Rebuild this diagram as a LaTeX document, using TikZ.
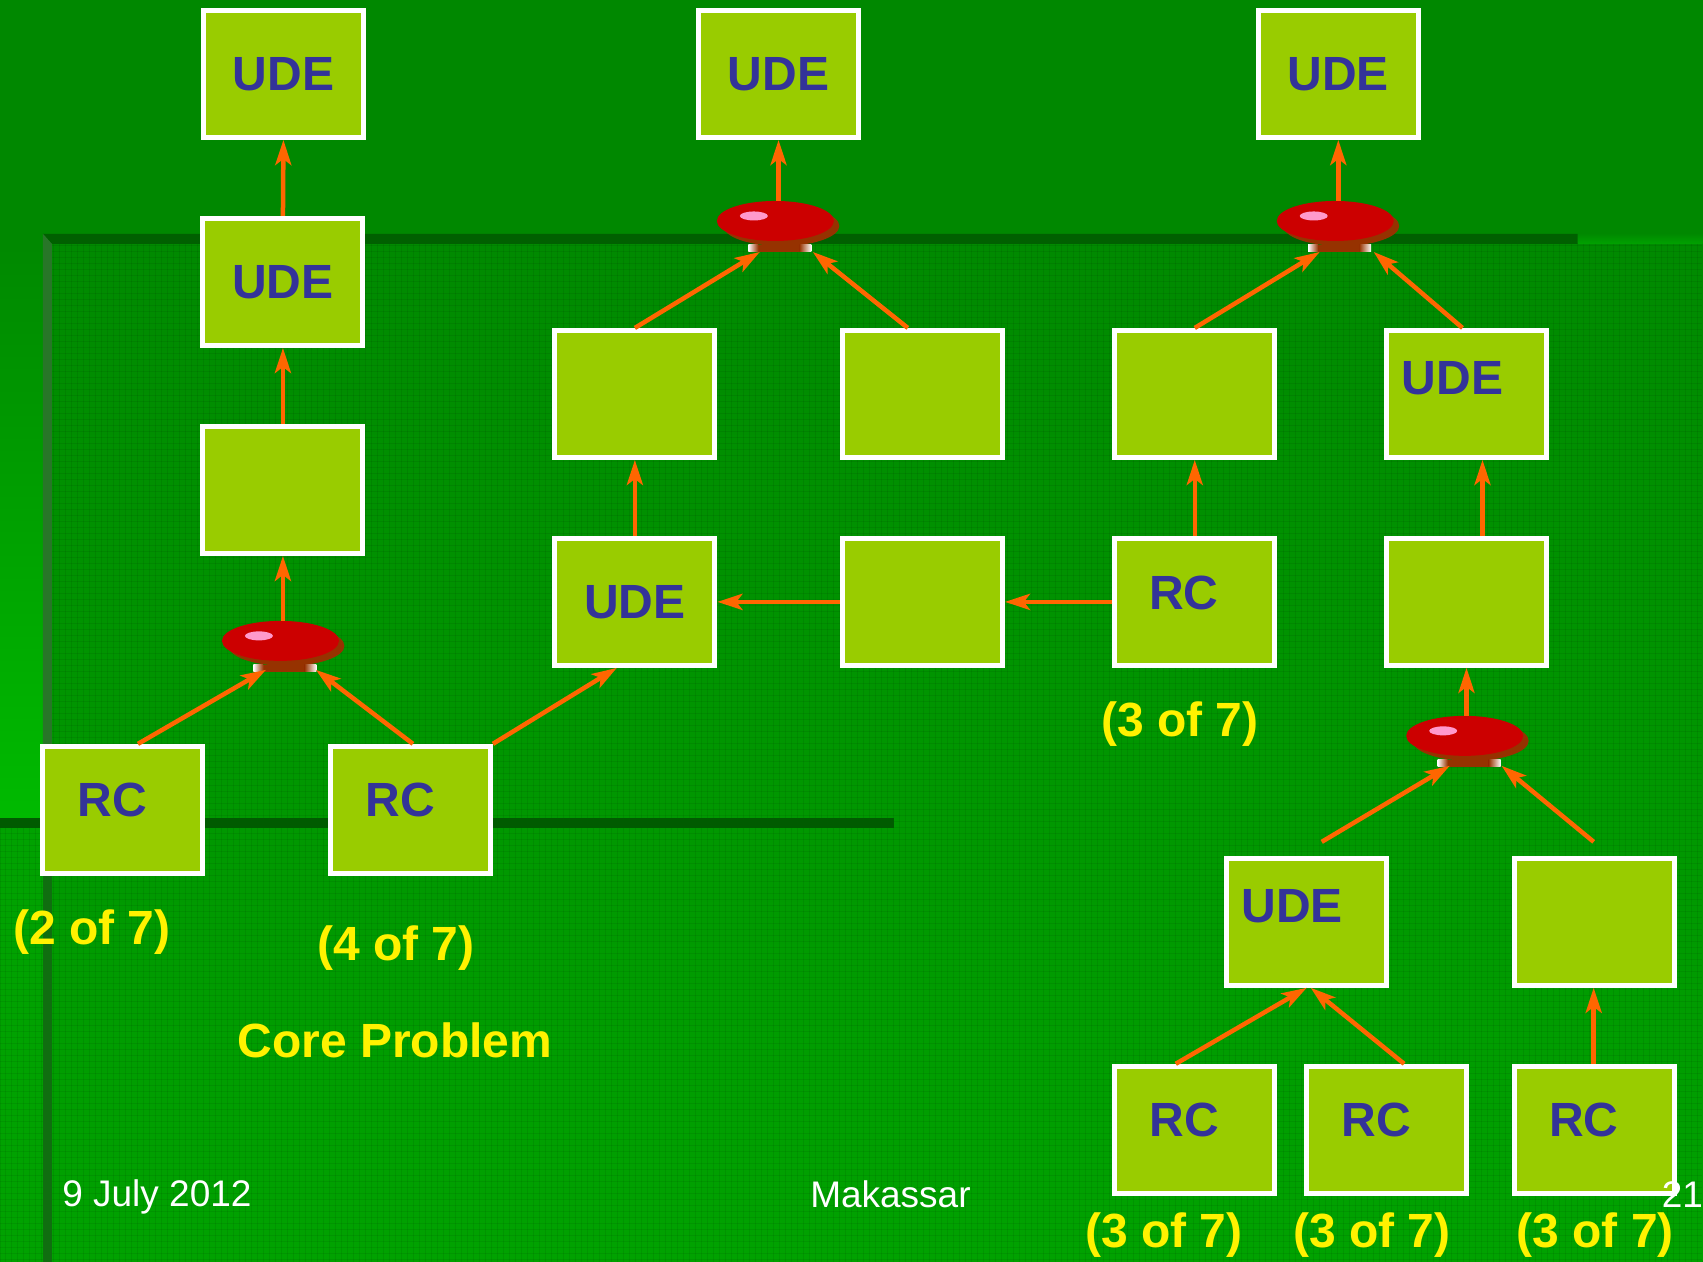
\documentclass[tikz,border=0pt]{standalone}
\usepackage{fontspec}
\setmainfont{Liberation Sans}
\usetikzlibrary{arrows.meta,calc,shapes.geometric}
\definecolor{topgreen}{RGB}{0,136,0}
\definecolor{texgreenA}{RGB}{0,138,0}
\definecolor{texgreenB}{RGB}{0,162,0}
\definecolor{leftgreen}{RGB}{0,186,0}
\definecolor{bandgreen}{RGB}{0,96,0}
\definecolor{stripegreen}{RGB}{40,118,40}
\definecolor{stripegreenB}{RGB}{16,110,16}
\definecolor{boxfill}{RGB}{153,204,0}
\definecolor{txtblue}{RGB}{51,51,153}
\definecolor{arrorange}{RGB}{255,102,0}
\definecolor{discred}{RGB}{204,0,0}
\definecolor{discrim}{RGB}{150,50,0}
\definecolor{discpink}{RGB}{255,153,204}
\newcommand\mydisc[3]{%
  \fill[discrim] (#2+6,#3+5) ellipse [x radius=58, y radius=20];
  \fill[discrim] (#2-27,#3+24) rectangle (#2+36,#3+31);
  \shade[left color=white, right color=discrim] (#2-27,#3+24) rectangle (#2-17,#3+31);
  \shade[left color=discrim, right color=white] (#2+24,#3+24) rectangle (#2+36,#3+31);
  \node[disc] (#1) at (#2,#3) {};
  \fill[discpink] (#2-21.5,#3-5) ellipse [x radius=14, y radius=4.5];
}
\begin{document}
\begin{tikzpicture}[x=1pt,y=-1pt,
  box/.style={draw=white, line width=5pt, fill=boxfill, minimum width=160pt, minimum height=127pt, inner sep=0pt, outer sep=2.5pt, text=txtblue, font=\fontsize{48}{56}\selectfont\bfseries},
  boxtext/.style={text=txtblue, font=\fontsize{48}{56}\selectfont\bfseries, inner sep=0pt},
  disc/.style={ellipse, fill=discred, minimum width=117pt, minimum height=40pt, inner sep=0pt},
  arr/.style={draw=arrorange, line width=4.5pt, -{Stealth[length=25pt,width=16pt,inset=6pt]}},
  ylabel/.style={text=yellow, font=\fontsize{48}{56}\selectfont\bfseries, inner sep=0pt},
  foot/.style={text=white, font=\fontsize{37}{44}\selectfont, inner sep=0pt},
  texline/.style={draw=black, opacity=0.07, line width=1pt}]
% ---------- background ----------
\fill[topgreen] (0,0) rectangle (1703,1262);
\shade[top color=texgreenA, bottom color=texgreenB] (52,244) rectangle (1703,1262);
\shade[top color=texgreenA, bottom color=texgreenB] (1578,234) rectangle (1703,244);
\shade[top color=topgreen, bottom color=leftgreen] (0,234) rectangle (43,818);
\fill[texgreenB] (0,828) rectangle (43,1262);
\begin{scope}
  \clip (52,244) rectangle (1703,1262) (0,828) rectangle (52,1262);
  \foreach \i in {0,...,285} \draw[texline] (6*\i,234) -- (6*\i,1262);
  \foreach \j in {0,...,172} \draw[texline] (0,234+6*\j) -- (1703,234+6*\j);
\end{scope}
\fill[bandgreen] (43,234) -- (1578,234) -- (1578,244) -- (52,244) -- cycle;
\fill[stripegreen] (43,234) -- (52,244) -- (52,818) -- (43,818) -- cycle;
\fill[stripegreenB] (43,818) rectangle (52,1262);
\fill[bandgreen!95!black] (0,818) rectangle (894,828);
% ---------- boxes ----------
\node[box] (a1) at (283.5,74) {UDE};
\node[box] (a2) at (283,282) {UDE};
\node[box] (a3) at (283,490) {};
\node[box] (rc1) at (123,810) {};
\node[box] (rc2) at (410.5,810) {};
\node[box] (mt) at (778.7,74) {UDE};
\node[box] (m1) at (635,394) {};
\node[box] (m2) at (922.6,394) {};
\node[box] (mu) at (635,602) {UDE};
\node[box] (mb) at (922.6,602) {};
\node[box] (rt) at (1338.6,74) {UDE};
\node[box] (r1) at (1195,394) {};
\node[box] (ru) at (1466.8,394) {};
\node[box] (rr) at (1195,602) {};
\node[box] (rb) at (1466.8,602) {};
\node[box] (bu) at (1307,922) {};
\node[box] (bb) at (1595,922) {};
\node[box] (b1) at (1195,1130) {};
\node[box] (b2) at (1386.4,1130) {};
\node[box] (b3) at (1595,1130) {};
% offset texts
\node[boxtext] (trc1) at ($(rc1)+(-10.6,-9.5)$) {RC};
\node[boxtext] (trc2) at ($(rc2)+(-10,-9.5)$) {RC};
\node[boxtext] (trr) at ($(rr)+(-11,-9)$) {RC};
\node[boxtext] (tru) at ($(ru)+(-14,-16)$) {UDE};
\node[boxtext] (tbu) at ($(bu)+(-14.5,-16)$) {UDE};
\node[boxtext] (tb1) at ($(b1)+(-10.6,-10)$) {RC};
\node[boxtext] (tb2) at ($(b2)+(-10,-10)$) {RC};
\node[boxtext] (tb3) at ($(b3)+(-11,-10)$) {RC};
% ---------- discs ----------
\mydisc{ea}{280.5}{641}
\mydisc{em}{775.5}{221}
\mydisc{er}{1335.5}{221}
\mydisc{eb}{1465}{736}
% ---------- arrows ----------
\draw[arr] (a2.north) -- (a1.south);
\draw[arr] (a3.north) -- (a2.south);
\draw[arr] (ea.north -| a3) -- (a3.south);
\draw[arr] ($(rc1.north)+(15,0)$) -- ($(ea)+(-14.5,29)$);
\draw[arr] ($(rc2.north)+(2.5,0)$) -- ($(ea)+(35.5,29)$);
\draw[arr] (rc2.north east) -- ($(mu.south)+(-18,0)$);
\draw[arr] (mu.north) -- (m1.south);
\draw[arr] (m1.north) -- ($(em)+(-15.5,31)$);
\draw[arr] ($(m2.north)+(-14.6,0)$) -- ($(em)+(37.5,31)$);
\draw[arr] (em.north -| mt) -- (mt.south);
\draw[arr] (mb.west) -- (mu.east);
\draw[arr] (rr.west) -- (mb.east);
\draw[arr] (rr.north) -- (r1.south);
\draw[arr] (r1.north) -- ($(er)+(-15.5,31)$);
\draw[arr] ($(ru.north)+(-4,0)$) -- ($(er)+(38.5,31)$);
\draw[arr] (er.north -| rt) -- (rt.south);
\draw[arr] ($(rb.north)+(16,0)$) -- ($(ru.south)+(16,0)$);
\draw[arr] (eb.north -| rb) -- (rb.south);
\draw[arr] ($(bu.north)+(15,-14)$) -- ($(eb)+(-15,30)$);
\draw[arr] ($(bb.north)+(-1,-14)$) -- ($(eb)+(37,30)$);
\draw[arr] ($(b1.north)+(-19,0)$) -- (bu.south);
\draw[arr] ($(b2.north)+(18,0)$) -- ($(bu.south)+(4,0)$);
\draw[arr] ($(b3.north)+(-1,0)$) -- ($(bb.south)+(-1,0)$);
% ---------- labels ----------
\node[ylabel] (l1) at (92,932) {(2 of 7)};
\node[ylabel] (l2) at (396,948) {(4 of 7)};
\node[ylabel] (l3) at (1180,724) {(3 of 7)};
\node[ylabel] (core) at (395,1041) {Core Problem};
\node[ylabel] (l4) at (1164,1235) {(3 of 7)};
\node[ylabel] (l5) at (1372,1235) {(3 of 7)};
\node[ylabel] (l6) at (1595.5,1235) {(3 of 7)};
\node[foot] (date) at (157,1197) {9 July 2012};
\node[foot] (place) at (890.6,1195) {Makassar};
\node[foot, anchor=west] (page) at (1662,1195) {21};
\end{tikzpicture}
\end{document}
